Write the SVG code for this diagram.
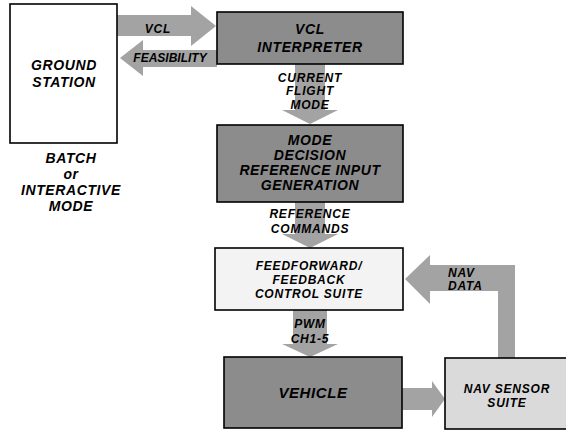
<svg xmlns="http://www.w3.org/2000/svg" width="566" height="431" viewBox="0 0 566 431">
<style>
.t{font-family:"Liberation Sans",Arial,sans-serif;font-weight:bold;font-style:italic;fill:#000;text-anchor:middle}
.b{font-size:14px;letter-spacing:0.6px}
.s{font-size:12px;letter-spacing:0.8px}
.box{stroke:#000;stroke-width:1.6}
.dark{fill:#8c8c8c}
.white{fill:#fff}
.light{fill:#f3f3f3}
.nav{fill:#dadada}
.arrow{fill:#a3a3a3;stroke:none}
</style>
<g id="connectors">
<path class="arrow" d="M117,15 H191 V6 L216,26 L191,46 V36 H117 Z"/>
<path class="arrow" d="M217,50 H143 V40 L120,58 L143,76 V67 H217 Z"/>
<path class="arrow" d="M295,64 H325 V110 H338 L310,124 L282,110 H295 Z"/>
<path class="arrow" d="M295,202 H325 V234 H338 L310,248 L282,234 H295 Z"/>
<path class="arrow" d="M293,310 H327 V344 H338 L310,357 L282,344 H293 Z"/>
<path class="arrow" d="M402,388 H432 V381 L445,399 L432,417 V410 H402 Z"/>
<path class="arrow" d="M515,358 V265 H430 V255 L405,279 L430,304 V291 H498 V358 Z"/>
<text class="t s" x="158" y="33">VCL</text>
<text class="t s" x="170" y="62" style="letter-spacing:0">FEASIBILITY</text>
<text class="t s" x="310" y="82">CURRENT</text>
<text class="t s" x="310" y="95">FLIGHT</text>
<text class="t s" x="310" y="109">MODE</text>
<text class="t s" x="310" y="218">REFERENCE</text>
<text class="t s" x="310" y="233">COMMANDS</text>
<text class="t s" x="310" y="328">PWM</text>
<text class="t s" x="310" y="343">CH1-5</text>
<text class="t s" x="448" y="277" style="text-anchor:start">NAV</text>
<text class="t s" x="448" y="290" style="text-anchor:start">DATA</text>
</g>
<g id="ground-station">
<rect class="box white" x="10" y="4" width="107" height="139"/>
<text class="t b" x="64" y="70">GROUND</text>
<text class="t b" x="64" y="87">STATION</text>
</g>
<g id="mode-label">
<text class="t b" x="71" y="163">BATCH</text>
<text class="t b" x="71" y="179">or</text>
<text class="t b" x="71" y="195">INTERACTIVE</text>
<text class="t b" x="71" y="211">MODE</text>
</g>
<g id="vcl-interpreter">
<rect class="box dark" x="217" y="12" width="186" height="52"/>
<text class="t b" x="310" y="34">VCL</text>
<text class="t b" x="310" y="52">INTERPRETER</text>
</g>
<g id="mode-decision">
<rect class="box dark" x="217" y="125" width="186" height="77"/>
<text class="t b" x="310" y="145">MODE</text>
<text class="t b" x="310" y="160">DECISION</text>
<text class="t b" x="310" y="175">REFERENCE INPUT</text>
<text class="t b" x="310" y="190">GENERATION</text>
</g>
<g id="control-suite">
<rect class="box light" x="215" y="248" width="188" height="62"/>
<text class="t s" x="309" y="270">FEEDFORWARD/</text>
<text class="t s" x="309" y="284">FEEDBACK</text>
<text class="t s" x="309" y="298">CONTROL SUITE</text>
</g>
<g id="vehicle">
<rect class="box dark" x="224" y="357" width="178" height="71"/>
<text class="t b" x="313" y="398" style="font-size:15px">VEHICLE</text>
</g>
<g id="nav-sensor-suite">
<rect class="box nav" x="445" y="358" width="130" height="71"/>
<text class="t s" x="507" y="393">NAV SENSOR</text>
<text class="t s" x="507" y="407">SUITE</text>
</g>
</svg>
